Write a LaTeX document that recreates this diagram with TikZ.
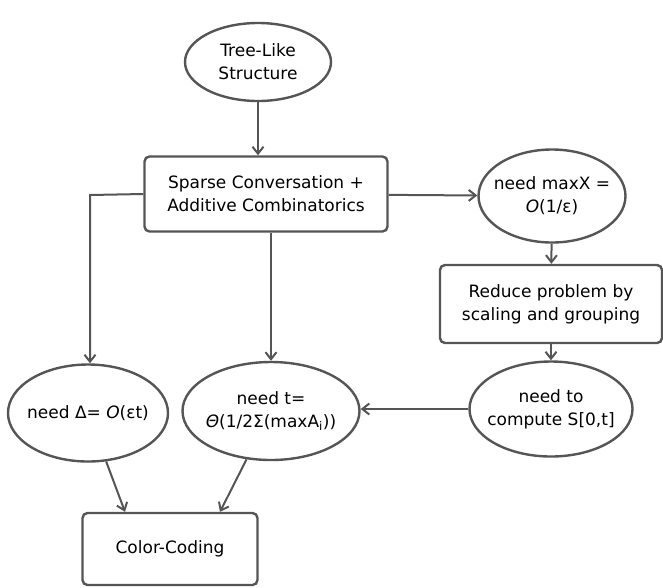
\documentclass[tikz,border=0pt]{standalone}
\usepackage{fontspec}
\setmainfont{DejaVu Sans}
\usetikzlibrary{arrows.meta,shapes.geometric}
\definecolor{ln}{HTML}{555555}
\tikzset{
  x=1pt,y=-1pt,
  base/.style={draw=ln,line width=2.4pt,fill=white,align=center,font=\fontsize{17}{23}\selectfont,inner sep=0pt},
  oval/.style={base,ellipse,inner xsep=-22pt,inner ysep=-8pt},
  rbox/.style={base,rectangle,rounded corners=5pt},
  conn/.style={draw=ln,line width=2pt,-{Straight Barb[length=7pt,width=11pt,line width=2pt]}},
}
\begin{document}
\begin{tikzpicture}
\useasboundingbox (0,0) rectangle (663,587);
\node[oval,minimum width=146pt,minimum height=78pt] (tree) at (258,62) {Tree-Like\\Structure};
\node[rbox,minimum width=243pt,minimum height=75pt] (sparse) at (266,194) {Sparse Conversation +\\Additive Combinatorics};
\node[oval,minimum width=147pt,minimum height=93pt] (maxx) at (552,196) {need maxX =\\\textit{O}(1/ε)};
\node[rbox,minimum width=222pt,minimum height=78pt] (reduce) at (551,304) {Reduce problem by\\scaling and grouping};
\node[oval,minimum width=163pt,minimum height=95pt] (comp) at (551,409) {need to\\compute S[0,t]};
\node[oval,minimum width=177pt,minimum height=98pt] (needt) at (271,411) {need t=\\\textit{Θ}(1/2Σ(maxA\textsubscript{i}))};
\node[oval,minimum width=160pt,minimum height=97pt] (delta) at (88,413) {need Δ= \textit{O}(εt)};
\node[rbox,minimum width=175pt,minimum height=72pt] (color) at (170,549) {Color-Coding};
\coordinate (corner) at (90,195);
\draw[conn] (tree.south) -- (tree.south |- sparse.north);
\draw[conn] (sparse.west) -- (corner) -- (delta.north -| corner);
\draw[conn] (sparse.south -| needt) -- (needt.north);
\draw[conn] (sparse) -- (maxx);
\draw[conn] (maxx) -- (reduce);
\draw[conn] (reduce) -- (comp);
\draw[conn] (comp.west) -- (comp.west -| needt.east);
\draw[conn] (delta) -- (color.north west -| 125,0);
\draw[conn] (needt) -- (color.north east -| 220,0);
\end{tikzpicture}
\end{document}
